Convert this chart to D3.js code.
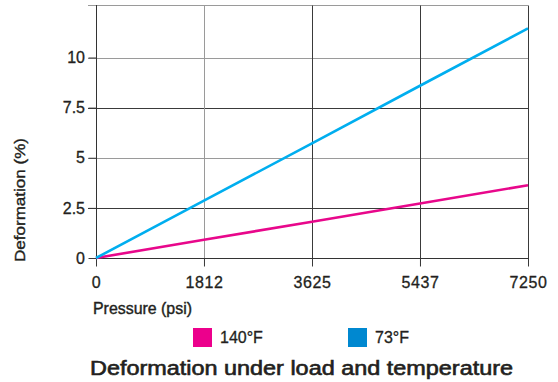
<!DOCTYPE html>
<html><head><meta charset="utf-8">
<script src="https://cdn.jsdelivr.net/npm/d3@7"></script>
<style>
html,body{margin:0;padding:0;background:#fff;}
text{font-family:"Liberation Sans",Arial,Helvetica,sans-serif;fill:#231f20;}
</style></head>
<body>
<svg id="chart" width="558" height="382"></svg>
<script>
const pressure = [0, 1812, 3625, 5437, 7250];
const series140 = [0, 0.91, 1.81, 2.72, 3.63];
const series73 = [0, 2.86, 5.72, 8.59, 11.45];
const xTicks = [0, 1812, 3625, 5437, 7250];
const yTicks = [0, 2.5, 5, 7.5, 10];
const legendLabels = ["140°F", "73°F"];
const lineColors = ["#e8078b", "#00aeef"];
const legendColors = ["#ec008c", "#0088d0"];
const xTitle = "Pressure (psi)";
const yTitle = "Deformation (%)";
const chartTitle = "Deformation under load and temperature";

const svg = d3.select("#chart");
const plotL = 96, plotR = 528, plotT = 5, plotB = 258;
const x = d3.scaleLinear().domain([0, 7250]).range([plotL, plotR]);
const y = d3.scaleLinear().domain([0, 10]).range([plotB, 57.5]);
const yMax = y.invert(plotT);
const ink = "#231f20";

// horizontal gridlines
const hLines = yTicks.filter(v => v > 0).concat([yMax]);
svg.append("g").selectAll("line").data(hLines).join("line")
  .attr("x1", plotL - 8).attr("x2", plotR)
  .attr("y1", d => Math.round(y(d)) + 0.5).attr("y2", d => Math.round(y(d)) + 0.5)
  .attr("stroke", d => (d === 10 || d === 5 || d === yMax) ? "#9a9a9a" : "#3a3a3a")
  .attr("stroke-width", 1);

// vertical gridlines
svg.append("g").selectAll("line").data(xTicks.filter(v => v > 0)).join("line")
  .attr("x1", d => Math.round(x(d)) + 0.5).attr("x2", d => Math.round(x(d)) + 0.5)
  .attr("y1", Math.round(y(yMax)) + 0.5).attr("y2", plotB + 8)
  .attr("stroke", d => d === 1812 ? "#9a9a9a" : "#3a3a3a")
  .attr("stroke-width", 1);

function medium(sel, sw) {
  sel.attr("fill", ink).attr("stroke", ink).attr("stroke-width", sw)
    .attr("font-family", "Liberation Sans, Arial, sans-serif");
}

// axes via d3
const yAxis = d3.axisLeft(y).tickValues(yTicks).tickFormat(d3.format("")).tickSize(8).tickPadding(3.5);
const gy = svg.append("g").attr("transform", `translate(${plotL + 0.5},0)`).call(yAxis);
gy.select(".domain").attr("d", `M0,${Math.round(y(yMax))}V${plotB + 8}`).attr("stroke", "#333");
gy.selectAll(".tick line").attr("stroke", "#3a3a3a");
gy.selectAll(".tick text").attr("font-size", 16).call(medium, 0.3);

const xAxis = d3.axisBottom(x).tickValues(xTicks).tickFormat(d3.format("")).tickSize(8).tickPadding(10);
const gx = svg.append("g").attr("transform", `translate(0,${plotB + 0.5})`).call(xAxis);
gx.select(".domain").attr("d", `M${plotL},0H${plotR + 1}`).attr("stroke", "#333");
gx.selectAll(".tick line").attr("stroke", "#3a3a3a");
gx.selectAll(".tick text").attr("font-size", 16).attr("letter-spacing", "0.6").call(medium, 0.3);

// lines
const line = d3.line().x((d, i) => x(pressure[i])).y(d => y(d));
[series140, series73].forEach((s, i) => {
  svg.append("path").datum(s).attr("d", line).attr("fill", "none")
    .attr("stroke", lineColors[i]).attr("stroke-width", 2.6);
});

// axis titles
svg.append("text").attr("x", 93).attr("y", 314).attr("font-size", 16)
  .attr("textLength", 99).attr("lengthAdjust", "spacingAndGlyphs")
  .call(medium, 0.4).text(xTitle);
svg.append("text").attr("transform", "translate(25,200) rotate(-90)")
  .attr("text-anchor", "middle").attr("font-size", 15.5)
  .attr("textLength", 124).attr("lengthAdjust", "spacingAndGlyphs")
  .call(medium, 0.4).text(yTitle);

// legend
const legX = [193, 348];
legendLabels.forEach((lab, i) => {
  svg.append("rect").attr("x", legX[i]).attr("y", 328).attr("width", 19).attr("height", 19)
    .attr("fill", legendColors[i]);
  svg.append("text").attr("x", legX[i] + 27).attr("y", 343).attr("font-size", 16)
    .call(medium, 0.3).text(lab);
});

// title
svg.append("text").attr("x", 90).attr("y", 375)
  .attr("font-size", 19.5)
  .attr("textLength", 423).attr("lengthAdjust", "spacingAndGlyphs")
  .call(medium, 0.6).text(chartTitle);
</script>
</body></html>
